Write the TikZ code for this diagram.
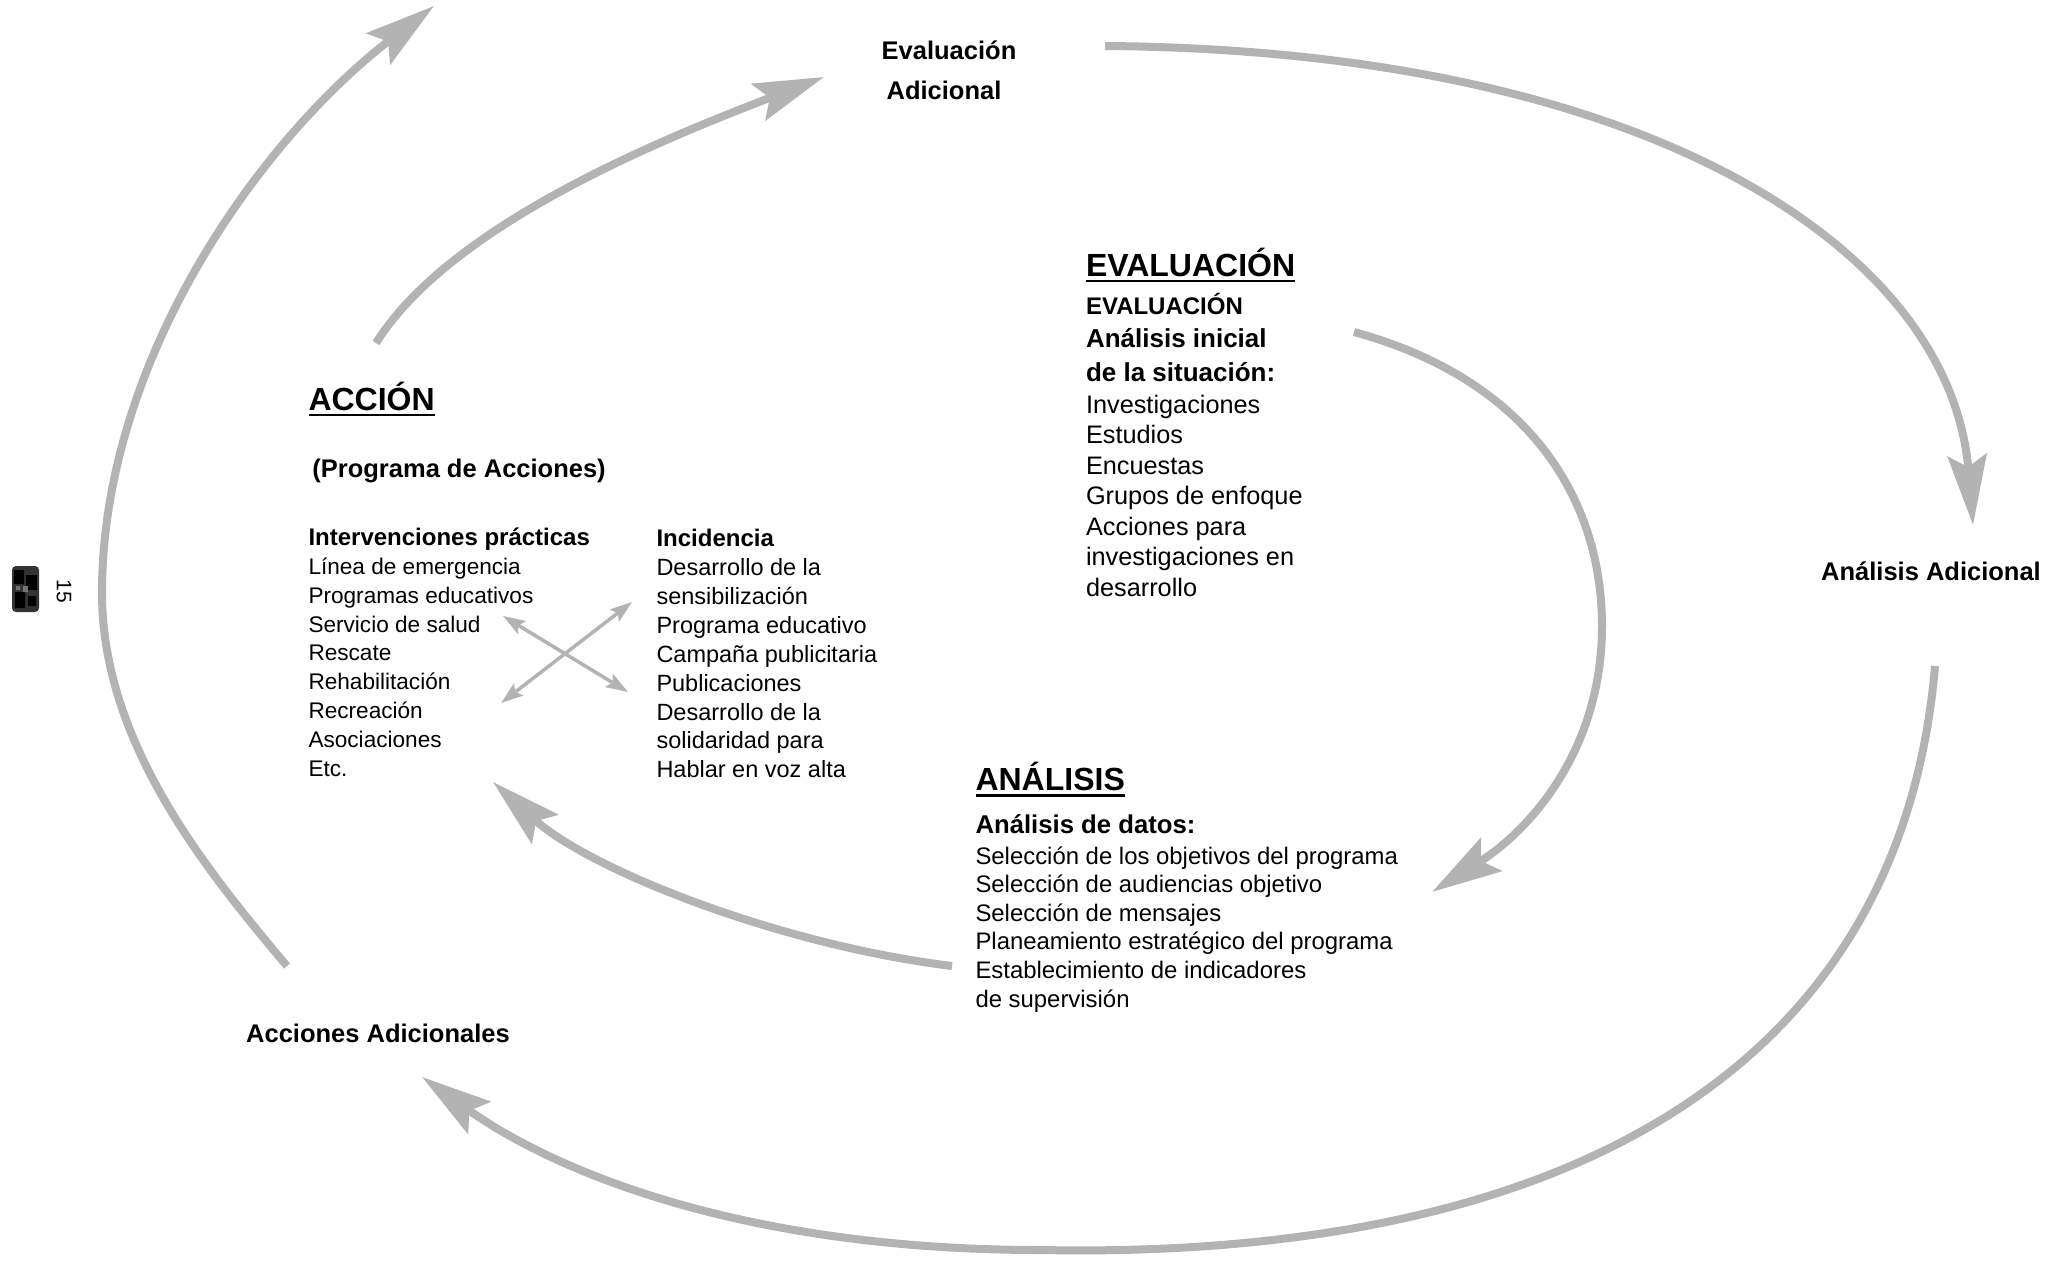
\documentclass[tikz,border=0pt]{standalone}
\usepackage{fontspec}
\setmainfont{Liberation Sans}
\usetikzlibrary{arrows.meta}
\definecolor{arrowgray}{RGB}{179,179,179}
\begin{document}
\begin{tikzpicture}[x=1pt,y=-1pt,
  txt/.style={inner sep=0pt, outer sep=0pt, anchor=base west},
  head/.style={txt, font=\bfseries\fontsize{32}{38}\selectfont},
  sub/.style={txt, font=\bfseries\fontsize{25.5}{30}\selectfont},
  lbl/.style={inner sep=0pt, anchor=base, font=\bfseries\fontsize{25.5}{30}\selectfont},
  bodyE/.style={txt, font=\fontsize{25.3}{30}\selectfont},
  bodyA/.style={txt, font=\fontsize{23.9}{28}\selectfont},
  bodyL/.style={txt, font=\fontsize{22.6}{28}\selectfont},
  bodyR/.style={txt, font=\fontsize{23.5}{28}\selectfont},
  uline/.style={line width=2.5pt},
  bigarrow/.style={draw=arrowgray, line width=8pt, -{Stealth[length=70pt,width=39pt,inset=12pt]}},
  smallarrow/.style={draw=arrowgray, line width=3.5pt, {Stealth[length=22pt,width=15pt,inset=4pt]}-{Stealth[length=22pt,width=15pt,inset=4pt]}}
]
\useasboundingbox (0,0) rectangle (2067,1262);

% ---------- EVALUACION block
\node[head] (evh) at (1086,276) {EVALUACIÓN};
\draw[uline] ([yshift=-5pt]evh.base west) -- ([yshift=-5pt]evh.base east);
\node[sub, font=\bfseries\fontsize{24}{30}\selectfont] (ev2) at (1086,314.6) {EVALUACIÓN};
\node[sub, font=\bfseries\fontsize{26}{30}\selectfont] (ev3) at (1086,347.6) {Análisis inicial};
\node[sub, font=\bfseries\fontsize{26}{30}\selectfont] (ev4) at (1086,381.6) {de la situación:};
\foreach \t [count=\i from 0] in {Investigaciones,Estudios,Encuestas,Grupos de enfoque,Acciones para,investigaciones en,desarrollo}
  \node[bodyE] (evb\i) at (1086, 413+30.5*\i) {\t};

% ---------- ANALISIS block
\node[head] (anh) at (975.5,790.5) {ANÁLISIS};
\draw[uline] ([yshift=-5pt]anh.base west) -- ([yshift=-5pt]anh.base east);
\node[sub, font=\bfseries\fontsize{25.7}{30}\selectfont] (an2) at (975.5,833.5) {Análisis de datos:};
\foreach \t [count=\i from 0] in {Selección de los objetivos del programa,Selección de audiencias objetivo,Selección de mensajes,Planeamiento estratégico del programa,Establecimiento de indicadores,de supervisión}
  \node[bodyA] (anb\i) at (975.5, 864+28.6*\i) {\t};

% ---------- ACCION block
\node[head] (ach) at (308.5,410) {ACCIÓN};
\draw[uline] ([yshift=-5pt]ach.base west) -- ([yshift=-5pt]ach.base east);
\node[sub] (ac2) at (312.4,477) {(Programa de Acciones)};
\node[sub, font=\bfseries\fontsize{24}{30}\selectfont] (ip) at (308.5,545) {Intervenciones prácticas};
\foreach \t [count=\i from 0] in {Línea de emergencia,Programas educativos,Servicio de salud,Rescate,Rehabilitación,Recreación,Asociaciones,Etc.}
  \node[bodyL] (ipb\i) at (308.5, 574.5+28.8*\i) {\t};
\node[sub, font=\bfseries\fontsize{24}{30}\selectfont] (inc) at (656.5,546) {Incidencia};
\foreach \t [count=\i from 0] in {Desarrollo de la,sensibilización,Programa educativo,Campaña publicitaria,Publicaciones,Desarrollo de la,solidaridad para,Hablar en voz alta}
  \node[bodyR] (incb\i) at (656.5, 575.5+28.9*\i) {\t};

% ---------- outer labels
\node[lbl] (evA) at (949,59) {Evaluación};
\node[lbl] (evB) at (944,99) {Adicional};
\node[lbl] (anad) at (1931,580) {Análisis Adicional};
\node[lbl] (acad) at (378,1042) {Acciones Adicionales};

% ---------- page number and logo
\node[inner sep=0pt, rotate=-90, font=\fontsize{21}{24}\selectfont] (pg) at (64,591) {15};
\fill[black!80, rounded corners=4pt] (12,566) rectangle (39,612);
\fill[black] (14,570) rectangle (24,584) (26,575) rectangle (37,590) (15,592) rectangle (25,608) (28,596) rectangle (36,606);
\fill[black!55] (23,586) rectangle (28,592) (16,586) rectangle (20,590);

% ---------- endpoints
\coordinate (oLs) at (287,966);
\coordinate (oLm) at (102,593);
\coordinate (oLe) at (434,6);
\coordinate (oTs) at (1105,46);
\coordinate (oTe) at (1973,525);
\coordinate (oBs) at (1935,666);
\coordinate (oBm) at (1041,1250);
\coordinate (oBe) at (422,1077);
\coordinate (iAs) at (376,343);
\coordinate (iAe) at (824,77);
\coordinate (iEs) at (1354,332);
\coordinate (iEm) at (1602,626);
\coordinate (iEe) at (1432,892);
\coordinate (iNs) at (952,966);
\coordinate (iNe) at (493,782);
\coordinate (x1a) at (501,703);
\coordinate (x1b) at (632,602);
\coordinate (x2a) at (503,616);
\coordinate (x2b) at (628,692);

% ---------- arrows
\draw[bigarrow] (oLs) .. controls (207,871) and (102,743) .. (oLm)
                      .. controls (102,360) and (260,140) .. (oLe);
\draw[bigarrow] (oTs) .. controls (1650,50) and (1950,250) .. (oTe);
\draw[bigarrow] (oBs) .. controls (1900,1080) and (1550,1260) .. (oBm)
                      .. controls (750,1250) and (560,1175) .. (oBe);
\draw[bigarrow] (iAs) .. controls (450,225) and (660,140) .. (iAe);
\draw[bigarrow] (iEs) .. controls (1530,380) and (1602,500) .. (iEm)
                      .. controls (1602,750) and (1530,830) .. (iEe);
\draw[bigarrow] (iNs) .. controls (780,945) and (590,870) .. (iNe);
\draw[smallarrow] (x1a) -- (x1b);
\draw[smallarrow] (x2a) -- (x2b);
\end{tikzpicture}
\end{document}
